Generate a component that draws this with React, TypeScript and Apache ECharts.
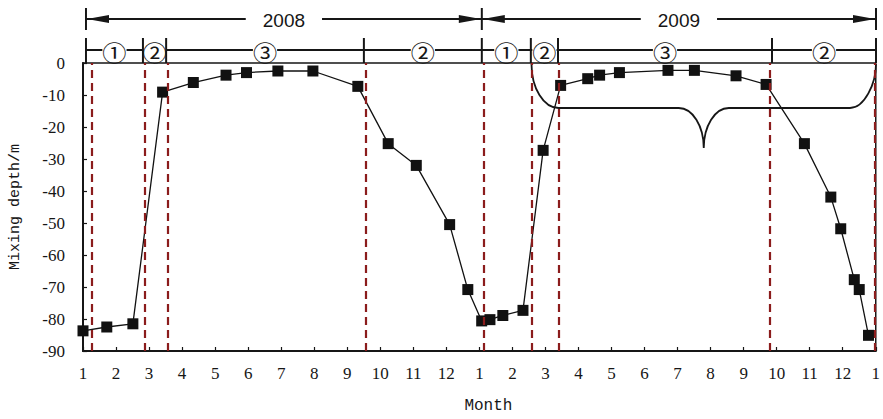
import React, { useEffect, useRef } from "react";
import * as echarts from "echarts";

// months elapsed since 1 Jan 2008 (0 = Jan 2008, 12 = Jan 2009, 24 = Jan 2010)
const monthPos = [0, 0.72, 1.51, 2.41, 3.34, 4.33, 4.95, 5.9, 6.96, 8.32, 9.24, 10.09, 11.1, 11.65, 12.07, 12.32, 12.71, 13.32, 13.93, 14.46, 15.28, 15.64, 16.24, 17.71, 18.51, 19.77, 20.68, 21.84, 22.64, 22.94, 23.35, 23.5, 23.78];
const depth = [-83.7, -82.5, -81.5, -9.1, -6.1, -3.8, -3.0, -2.5, -2.5, -7.3, -25.2, -32.0, -50.5, -70.8, -80.6, -80.2, -78.9, -77.3, -27.3, -7.0, -4.9, -3.8, -3.0, -2.3, -2.3, -4.0, -6.7, -25.2, -41.9, -51.8, -67.7, -70.8, -85.1];

// dashed phase boundaries (month position)
const boundaries = [0.25, 1.88, 2.57, 8.55, 12.13, 13.6, 14.41, 20.78, 23.97];

// top annotation: phase bars and labels
const phaseBars = [0.15, 1.87, 2.57, 8.54, 12.1, 13.58, 14.4, 20.86, 24.0];
const phaseLabels = ["①", "②", "③", "②", "①", "②", "③", "②"];
const yearBars = [0.15, 12.1, 24.0];
const yearLabels = ["2008", "2009"];
const braceRange = [13.6, 24.0];

const X_MIN = 0;
const X_MAX = 24;
const W = 883;
const H = 419;
const GL = 81;
const GR = 7;
const GT = 63;
const GB = 68;
const px = (t: number) => GL + ((t - X_MIN) / (X_MAX - X_MIN)) * (W - GL - GR);

const INK = "#161616";
const SERIF = "Liberation Serif, Times New Roman, serif";

// brace path
const bx0 = px(braceRange[0]);
const bx1 = px(braceRange[1]);
const bxm = (bx0 + bx1) / 2;
const yTop = 64;
const yMid = 108;
const yCusp = 148;
const k = 0.55;
const braceD =
  `M${bx0},${yTop} C${bx0},${yTop + k * (yMid - yTop)} ${bx0 + 27 - k * 27},${yMid} ${bx0 + 27},${yMid} ` +
  `L${bxm - 25},${yMid} C${bxm - 25 + k * 25},${yMid} ${bxm},${yCusp - k * 40} ${bxm},${yCusp} ` +
  `C${bxm},${yCusp - k * 40} ${bxm + 25 - k * 25},${yMid} ${bxm + 25},${yMid} ` +
  `L${bx1 - 26},${yMid} C${bx1 - 26 + k * 26},${yMid} ${bx1},${yMid - k * (yMid - yTop)} ${bx1},${yTop}`;

echarts.graphic.registerShape("brace", echarts.graphic.extendPath(braceD, {}) as any);

function buildGraphic() {
  const els: any[] = [];
  // Year row
  const yY = 19;
  for (let i = 0; i < yearBars.length - 1; i++) {
    const a = px(yearBars[i]);
    const b = px(yearBars[i + 1]);
    els.push({ type: "line", shape: { x1: a, y1: yY, x2: b, y2: yY }, style: { stroke: INK, lineWidth: 2 } });
    els.push({
      type: "polygon",
      shape: { points: [[a + 1, yY], [a + 23, yY - 4], [a + 23, yY + 4]] },
      style: { fill: INK },
    });
    els.push({
      type: "polygon",
      shape: { points: [[b - 1, yY], [b - 23, yY - 4], [b - 23, yY + 4]] },
      style: { fill: INK },
    });
    els.push({
      type: "text",
      x: (a + b) / 2,
      y: yY + 1,
      z: 10,
      style: {
        text: yearLabels[i],
        fontSize: 19,
        fontFamily: "Liberation Sans",
        fill: INK,
        align: "center",
        verticalAlign: "middle",
        backgroundColor: "#fff",
        padding: [0, 17],
      },
    });
  }
  yearBars.forEach((t) => {
    const x = px(t);
    els.push({ type: "line", z: 12, shape: { x1: x, y1: 8, x2: x, y2: 30 }, style: { stroke: INK, lineWidth: 2 } });
  });
  // Phase row
  const pY = 50;
  els.push({
    type: "line",
    shape: { x1: px(phaseBars[0]), y1: pY, x2: px(phaseBars[phaseBars.length - 1]), y2: pY },
    style: { stroke: INK, lineWidth: 2 },
  });
  phaseLabels.forEach((lab, i) => {
    const c = (px(phaseBars[i]) + px(phaseBars[i + 1])) / 2;
    els.push({
      type: "text",
      x: c,
      y: pY + 1,
      scaleX: 1.1,
      z: 10,
      style: {
        text: lab,
        fontSize: 22,
        fontFamily: "Noto Sans CJK SC",
        fill: INK,
        align: "center",
        verticalAlign: "middle",
        backgroundColor: "#fff",
      },
    });
  });
  phaseBars.forEach((t) => {
    const x = px(t);
    els.push({ type: "line", z: 12, shape: { x1: x, y1: 38, x2: x, y2: GT }, style: { stroke: INK, lineWidth: 2 } });
  });
  // brace
  els.push({
    type: "brace",
    x: 0,
    y: 0,
    z: 5,
    style: { stroke: INK, lineWidth: 1.8, fill: "none" },
  });
  return els;
}

export default function App() {
  const ref = useRef<HTMLDivElement>(null);
  useEffect(() => {
    if (!ref.current) return;
    const chart = echarts.init(ref.current, null, { renderer: "svg" });
    const points = monthPos.map((t, i) => [t, depth[i]]);
    chart.setOption({
      animation: false,
      backgroundColor: "#fff",
      grid: { left: GL, right: GR, top: GT, bottom: GB, show: true, borderColor: INK, borderWidth: 1.5 },
      xAxis: {
        type: "value",
        min: X_MIN,
        max: X_MAX,
        interval: 1,
        name: "Month",
        nameLocation: "middle",
        nameGap: 47,
        nameTextStyle: { fontFamily: "Liberation Mono", fontSize: 16, color: INK, padding: [0, 0, 0, 18] },
        axisLine: { show: true, onZero: false, lineStyle: { color: INK, width: 2 } },
        axisTick: { show: true, inside: true, length: 4, lineStyle: { color: INK, width: 1.2 } },
        axisLabel: {
          margin: 14,
          fontFamily: SERIF,
          fontSize: 17,
          color: INK,
          formatter: (v: number) => String((Math.round(v) % 12) + 1),
        },
        splitLine: { show: false },
      },
      yAxis: {
        type: "value",
        min: -90,
        max: 0,
        interval: 10,
        name: "Mixing depth/m",
        nameLocation: "middle",
        nameGap: 60,
        nameRotate: 90,
        nameTextStyle: { fontFamily: "Liberation Mono", fontSize: 15, color: INK },
        axisLine: { show: true, onZero: false, lineStyle: { color: INK, width: 2 } },
        axisTick: { show: true, inside: true, length: 4, lineStyle: { color: INK, width: 1.2 } },
        axisLabel: { margin: 18, fontFamily: SERIF, fontSize: 17, color: INK },
        splitLine: { show: false },
      },
      series: [
        {
          type: "line",
          data: [],
          z: 1,
          markLine: {
            silent: true,
            symbol: "none",
            label: { show: false },
            lineStyle: { color: "#8b1c1c", width: 2.2, type: [8, 5] },
            data: boundaries.map((b) => ({ xAxis: b })),
          },
        },
        {
          type: "line",
          data: points,
          z: 3,
          clip: false,
          symbol: "rect",
          symbolSize: 11,
          showAllSymbol: true,
          itemStyle: { color: "#111" },
          lineStyle: { color: "#111", width: 1.3 },
        },
      ],
      graphic: buildGraphic(),
    });
    return () => chart.dispose();
  }, []);
  return <div ref={ref} style={{ position: "fixed", left: 0, top: 0, width: W, height: H }} />;
}
